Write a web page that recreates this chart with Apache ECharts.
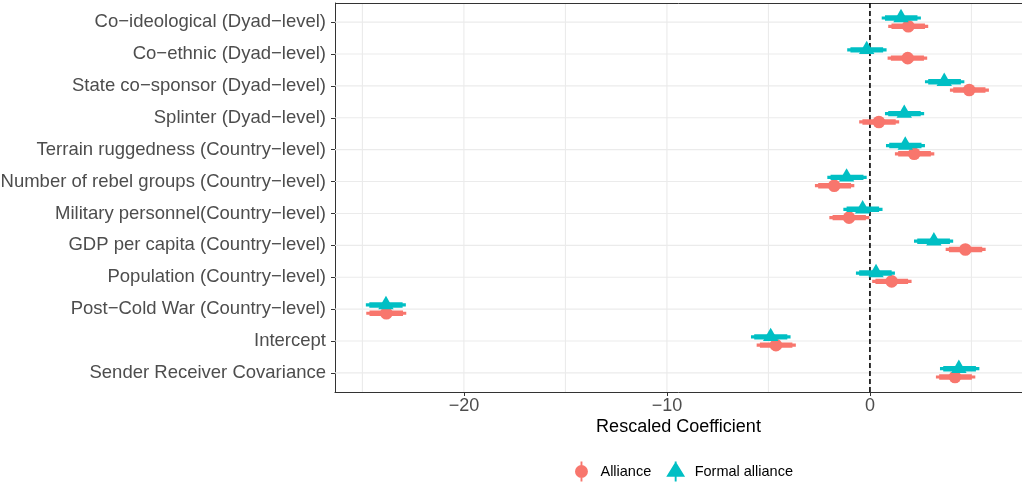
<!DOCTYPE html>
<html>
<head>
<meta charset="utf-8">
<title>Rescaled Coefficients</title>
<script src="https://cdn.jsdelivr.net/npm/echarts@6/dist/echarts.min.js"></script>
<style>
  html, body { margin: 0; padding: 0; background: #ffffff; }
  #chart { width: 1022px; height: 484px; }
</style>
</head>
<body>
<div id="chart"></div>
<script>
// Model terms, listed top to bottom
const categories = [
  'Co\u2212ideological (Dyad\u2212level)',
  'Co\u2212ethnic (Dyad\u2212level)',
  'State co\u2212sponsor (Dyad\u2212level)',
  'Splinter (Dyad\u2212level)',
  'Terrain ruggedness (Country\u2212level)',
  'Number of rebel groups (Country\u2212level)',
  'Military personnel(Country\u2212level)',
  'GDP per capita (Country\u2212level)',
  'Population (Country\u2212level)',
  'Post\u2212Cold War (Country\u2212level)',
  'Intercept',
  'Sender Receiver Covariance'
];

// Alliance: point estimate, 95% bounds, 90% bounds
const allianceEst  = [1.89, 1.86, 4.89, 0.44, 2.18, -1.76, -1.03, 4.70, 1.07, -23.82, -4.63, 4.19];
const allianceLo   = [0.90, 0.87, 3.94, -0.53, 1.23, -2.71, -2.00, 3.73, 0.11, -24.81, -5.58, 3.25];
const allianceHi   = [2.87, 2.82, 5.86, 1.44, 3.17, -0.77, -0.03, 5.70, 2.05, -22.84, -3.65, 5.19];
const allianceLo90 = [1.06, 1.03, 4.10, -0.37, 1.39, -2.55, -1.84, 3.89, 0.27, -24.65, -5.42, 3.41];
const allianceHi90 = [2.71, 2.66, 5.69, 1.27, 3.00, -0.93, -0.20, 5.53, 1.88, -23.00, -3.82, 5.02];

// Formal alliance: point estimate, 95% bounds, 90% bounds
const formalEst  = [1.53, -0.16, 3.66, 1.69, 1.74, -1.15, -0.36, 3.15, 0.30, -23.84, -4.89, 4.38];
const formalLo   = [0.58, -1.12, 2.71, 0.74, 0.79, -2.10, -1.31, 2.17, -0.69, -24.83, -5.86, 3.45];
const formalHi   = [2.51, 0.82, 4.65, 2.67, 2.71, -0.16, 0.62, 4.10, 1.23, -22.86, -3.91, 5.39];
const formalLo90 = [0.74, -0.96, 2.87, 0.90, 0.95, -1.94, -1.15, 2.33, -0.53, -24.66, -5.70, 3.61];
const formalHi90 = [2.34, 0.65, 4.48, 2.50, 2.54, -0.32, 0.45, 3.94, 1.07, -23.02, -4.07, 5.22];

// Axis ticks
const xTickValues = [-20, -10, 0];
const xGridValues = [-25, -20, -15, -10, -5, 0, 5];
const xRange = [-26.35, 7.49];

const COLORS = { alliance: '#F8766D', formal: '#00BFC4' };
const FONT = '"Liberation Sans", Arial, Helvetica, sans-serif';
const rowIndex = categories.map((c, i) => i);

function fmtNum(v) { return String(v).replace('-', '\u2212'); }

// Panel background grid, top edge and the zero reference line
function renderPanel(params, api) {
  const cs = params.coordSys;
  const children = [];
  rowIndex.forEach(i => {
    const y = api.coord([0, i])[1];
    children.push({ type: 'line', shape: { x1: cs.x, y1: y, x2: cs.x + cs.width, y2: y },
      style: { stroke: '#EBEBEB', lineWidth: 1.1 } });
  });
  xGridValues.forEach(v => {
    const x = api.coord([v, 0])[0];
    children.push({ type: 'line', shape: { x1: x, y1: cs.y, x2: x, y2: cs.y + cs.height },
      style: { stroke: '#EBEBEB', lineWidth: 1.1 } });
  });
  children.push({ type: 'line', shape: { x1: cs.x, y1: cs.y + 0.5, x2: cs.x + cs.width, y2: cs.y + 0.5 },
    style: { stroke: '#333333', lineWidth: 1 } });
  const x0 = api.coord([0, 0])[0];
  children.push({ type: 'line', shape: { x1: x0, y1: cs.y, x2: x0, y2: cs.y + cs.height },
    style: { stroke: '#000000', lineWidth: 1.6, lineDash: [5, 3] } });
  return { type: 'group', children };
}

// Point-range marks dodged within each row
function makeRenderer(color, shape, side) {
  return function (params, api) {
    const row = api.value(1);
    const band = api.size([0, 1])[1];
    const yc = api.coord([0, row])[1] + side * 0.13 * band;
    const xe = api.coord([api.value(0), row])[0];
    const xl = api.coord([api.value(2), row])[0];
    const xh = api.coord([api.value(3), row])[0];
    const xl9 = api.coord([api.value(4), row])[0];
    const xh9 = api.coord([api.value(5), row])[0];
    const style = { fill: color };
    const children = [
      { type: 'rect', shape: { x: xl, y: yc - 1.6, width: xh - xl, height: 3.2 }, style },
      { type: 'rect', shape: { x: xl9, y: yc - 2.7, width: xh9 - xl9, height: 5.4 }, style }
    ];
    if (shape === 'circle') {
      children.push({ type: 'circle', shape: { cx: xe, cy: yc, r: 6.3 }, style });
    } else {
      children.push({ type: 'polygon', shape: { points: [[xe, yc - 9.2], [xe + 7.7, yc + 4.2], [xe - 7.7, yc + 4.2]] }, style });
    }
    return { type: 'group', children };
  };
}

function seriesData(est, lo, hi, lo90, hi90) {
  return rowIndex.map(i => [est[i], i, lo[i], hi[i], lo90[i], hi90[i]]);
}

const chart = echarts.init(document.getElementById('chart'), null, { renderer: 'canvas' });

chart.setOption({
  animation: false,
  backgroundColor: '#ffffff',
  textStyle: { fontFamily: FONT },
  grid: {
    left: 335, right: 0, top: 3, bottom: 92,
    outerBoundsMode: 'none',
    containLabel: false,
    show: false
  },
  legend: {
    left: 575, top: 461.5, padding: 0,
    itemWidth: 28, itemHeight: 20, itemGap: 15,
    textStyle: { fontSize: 14.5, color: '#000000', fontFamily: FONT },
    data: [
      { name: 'Alliance', icon: 'path://M4.7,0h1.6v17h-1.6z M0,8.5a5.5,5.5 0 1,1 11,0a5.5,5.5 0 1,1 -11,0z' },
      { name: 'Formal alliance', icon: 'path://M8,0L16,13H0z M7.2,0h1.6v17h-1.6z' }
    ],
    selectedMode: false
  },
  xAxis: {
    type: 'value',
    min: xRange[0], max: xRange[1],
    name: 'Rescaled Coefficient',
    nameLocation: 'middle',
    nameGap: 26,
    nameMoveOverlap: false,
    nameTextStyle: { fontSize: 18, color: '#000000', fontFamily: FONT, verticalAlign: 'top' },
    axisLine: { show: true, onZero: false, lineStyle: { color: '#333333', width: 1 } },
    axisTick: { show: true, customValues: xTickValues, length: 4, lineStyle: { color: '#333333', width: 1 } },
    axisLabel: { show: true, customValues: xTickValues, margin: 5, fontSize: 18, color: '#4D4D4D',
      fontFamily: FONT, formatter: fmtNum },
    splitLine: { show: false }
  },
  yAxis: {
    type: 'value',
    inverse: true,
    min: -0.6, max: categories.length - 0.4,
    axisLine: { show: true, onZero: false, lineStyle: { color: '#333333', width: 1 } },
    axisTick: { show: true, customValues: rowIndex, length: 4, lineStyle: { color: '#333333', width: 1 } },
    axisLabel: { show: true, customValues: rowIndex, margin: 9, fontSize: 18.5, color: '#4D4D4D',
      fontFamily: FONT, formatter: v => categories[Math.round(v)] || '' },
    splitLine: { show: false }
  },
  series: [
    {
      name: 'panel',
      type: 'custom',
      silent: true,
      z: 1,
      data: [[0, 0]],
      encode: { x: 0, y: 1 },
      renderItem: renderPanel
    },
    {
      name: 'Alliance',
      type: 'custom',
      z: 2,
      itemStyle: { color: COLORS.alliance },
      data: seriesData(allianceEst, allianceLo, allianceHi, allianceLo90, allianceHi90),
      encode: { x: [0, 2, 3], y: 1 },
      renderItem: makeRenderer(COLORS.alliance, 'circle', 1)
    },
    {
      name: 'Formal alliance',
      type: 'custom',
      z: 3,
      itemStyle: { color: COLORS.formal },
      data: seriesData(formalEst, formalLo, formalHi, formalLo90, formalHi90),
      encode: { x: [0, 2, 3], y: 1 },
      renderItem: makeRenderer(COLORS.formal, 'triangle', -1)
    }
  ]
});
</script>
</body>
</html>
